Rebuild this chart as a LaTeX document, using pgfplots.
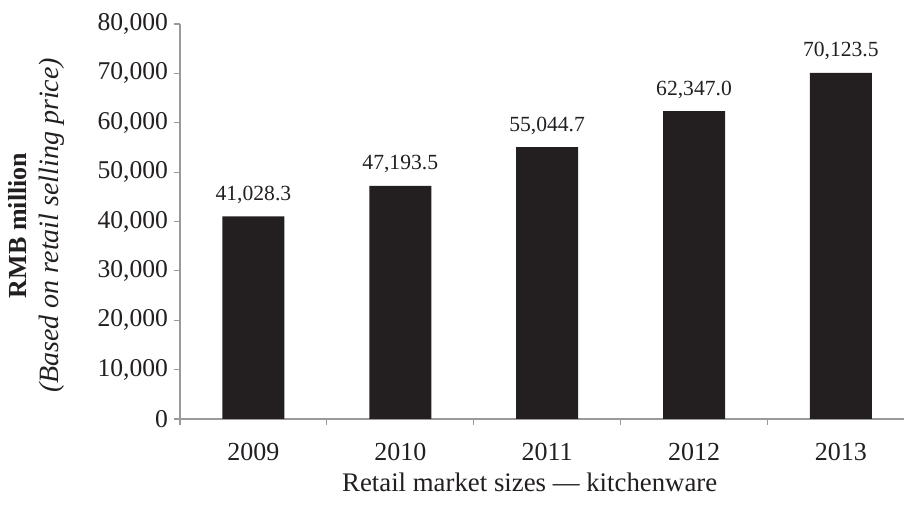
\documentclass[border=0pt]{standalone}
\usepackage{fontspec}
\setmainfont{Liberation Serif}
\usepackage{pgfplots}
\usepackage{pgfplotstable}
\pgfplotsset{compat=1.18}
\definecolor{barc}{HTML}{231F20}
\definecolor{axc}{HTML}{9A9A9A}
\pgfplotstableread{
x y label
0 41028.3 41,028.3
1 47193.5 47,193.5
2 55044.7 55,044.7
3 62347.0 62,347.0
4 70123.5 70,123.5
}\datatable
\begin{document}
\begin{tikzpicture}
\begin{axis}[
  scale only axis,
  width=362pt, height=197.5pt,
  at={(0,0)}, anchor=south west,
  xmin=-0.5, xmax=4.43,
  ymin=0, ymax=80000,
  axis x line*=bottom, axis y line*=left,
  axis line style={axc, line width=0.8pt, -},
  xtick={0,1,2,3,4},
  xticklabels={2009,2010,2011,2012,2013},
  minor xtick={-0.5,0.5,1.5,2.5,3.5},
  ytick={0,10000,...,80000},
  minor ytick={0,10000,...,80000},
  major tick length=0pt,
  minor tick length=3pt,
  tick align=outside,
  minor tick style={axc, line width=0.6pt},
  scaled y ticks=false,
  /pgf/number format/1000 sep={,},
  /pgf/number format/assume math mode=true,
  yticklabel style={font=\fontsize{12.8}{15}\selectfont, text=barc, xshift=-2.5pt},
  xticklabel style={font=\fontsize{13}{15}\selectfont, text=barc, anchor=base, yshift=-21pt},
  xlabel={Retail market sizes — kitchenware},
  xlabel style={font=\fontsize{13.4}{15}\selectfont, text=barc, at={(axis description cs:0.483,0)}, anchor=base, yshift=-36.5pt},
  ylabel={\textbf{RMB million}\\[1pt]{\fontsize{14}{15}\selectfont\itshape (Based on retail selling price)}},
  ylabel style={font=\fontsize{13}{15}\selectfont, text=barc, align=center, at={(axis description cs:-0.198,0.49)}, anchor=center},
  ybar, bar width=31pt, bar shift=0pt,
  nodes near coords,
  point meta=explicit symbolic,
  every node near coord/.append style={font=\fontsize{10.8}{12}\selectfont, text=barc, anchor=base, yshift=8pt},
  clip=false,
]
\addplot[fill=barc, draw=none] table[x=x, y=y, meta=label] {\datatable};
\end{axis}
\pgfresetboundingbox
\path[use as bounding box] (-90pt,-43.5pt) rectangle (362pt,209.5pt);
\end{tikzpicture}
\end{document}
